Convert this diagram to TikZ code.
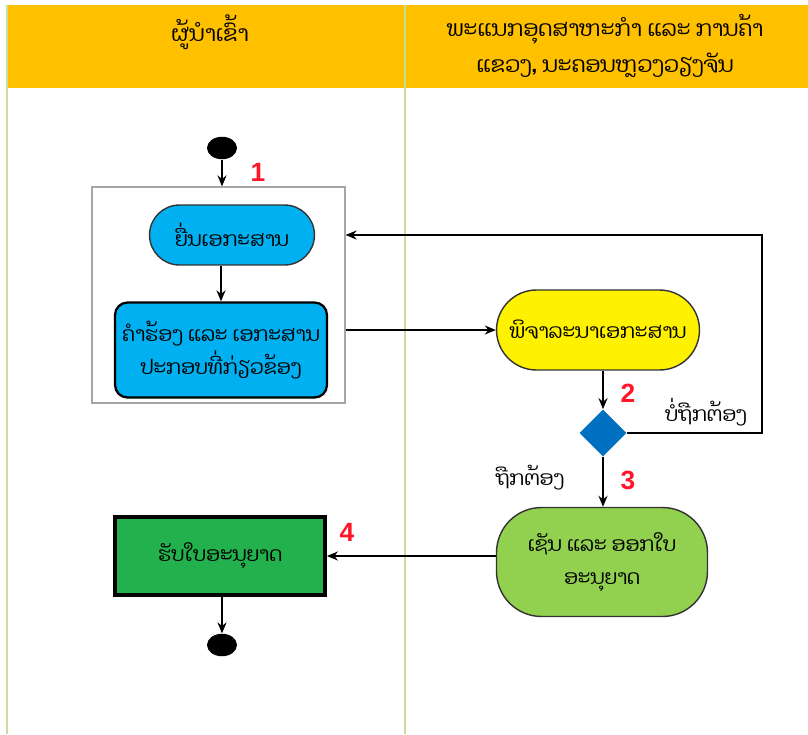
\documentclass[tikz,border=0pt]{standalone}
\usepackage{fontspec}
\setmainfont{Liberation Sans}
\newfontfamily\laofont[Script=Lao]{Dhyana}
\usepackage{tikz}
\usetikzlibrary{positioning, arrows.meta, shapes.geometric, calc}
\definecolor{hdrgold}{RGB}{255,192,0}
\definecolor{laneline}{RGB}{200,222,160}
\definecolor{skyblue}{RGB}{0,176,240}
\definecolor{deepblue}{RGB}{0,112,192}
\definecolor{limegreen}{RGB}{146,208,80}
\definecolor{boxgreen}{RGB}{34,177,76}
\definecolor{numred}{RGB}{255,20,40}

\begin{document}
\begin{tikzpicture}
[x=0.02cm, y=-0.02cm,
 dot/.style={ellipse, fill=black, inner sep=0pt, minimum width=0.6cm, minimum height=0.45cm},
 act/.style={rectangle, align=center, inner sep=2pt, font=\laofont\fontsize{11.5}{19}\selectfont},
 dec/.style={diamond, fill=deepblue, inner sep=0pt, minimum size=0.94cm},
 hdr/.style={align=center, font=\laofont\fontsize{12.5}{20}\selectfont},
 lbl/.style={font=\laofont\fontsize{11.5}{16}\selectfont},
 num/.style={text=numred, font=\bfseries\fontsize{15}{15}\selectfont},
 ->/.style={line width=1.2pt, arrows={-Stealth[length=2.2mm, width=1.8mm]}}]
\useasboundingbox (0,0) rectangle (808,734);
% lanes
\fill[hdrgold] (7,5) rectangle (808,88);
\draw[laneline, line width=1.2pt] (7,5) -- (7,734);
\draw[laneline, line width=1.2pt] (405,5) -- (405,734);
\node[hdr] (lhead) at (210,32) {ຜູ້ນຳເຂົ້າ};
\node[hdr] (rhead) at (605,46) {ພະແນກອຸດສາຫະກຳ ແລະ ການຄ້າ\\ແຂວງ, ນະຄອນຫຼວງວຽງຈັນ};
% nodes
\node[dot] (start) at (222,148) {};
\node[draw=gray!70, line width=0.7pt, minimum width=5.06cm, minimum height=4.32cm] (grp) at (218.5,295) {};
\node[act, draw=black!80, fill=skyblue, line width=0.8pt, rounded corners=0.6cm,
  minimum width=3.3cm, minimum height=1.2cm] (submit) at (232,235) {ຍື່ນເອກະສານ};
\node[act, draw=black, fill=skyblue, line width=1.3pt, rounded corners=0.25cm,
  minimum width=4.24cm, minimum height=1.9cm] (request) at (221,350) {ຄຳຮ້ອງ ແລະ ເອກະສານ\\ປະກອບທີ່ກ່ຽວຂ້ອງ};
\node[act, draw=black!80, fill=yellow, line width=0.8pt, rounded corners=0.8cm,
  minimum width=4.06cm, minimum height=1.6cm] (review) at (598,330) {ພິຈາລະນາເອກະສານ};
\node[dec] (check) at (603,433) {};
\node[act, draw=black!80, fill=limegreen, line width=0.8pt, rounded corners=0.9cm,
  minimum width=4.22cm, minimum height=2.18cm] (sign) at (602,562) {ເຊັນ ແລະ ອອກໃບ\\ອະນຸຍາດ};
\node[act, draw=black, fill=boxgreen, line width=2.2pt,
  minimum width=4.2cm, minimum height=1.56cm] (receive) at (220,556) {ຮັບໃບອະນຸຍາດ};
\node[dot] (stop) at (222,645) {};
\coordinate (back) at (762,433);
% numbers
\node[num] (n1) at (258,172) {1};
\node[num] (n2) at (628,393) {2};
\node[num] (n3) at (628,480) {3};
\node[num] (n4) at (347,532) {4};
\node[lbl] (wrong) at (706,412) {ບໍ່ຖືກຕ້ອງ};
\node[lbl] (right) at (530,478) {ຖືກຕ້ອງ};
% flow
\draw[->] (start) -- (start |- grp.north);
\draw[->] (request |- submit.south) -- (request.north);
\draw[->] (grp.east |- review) -- (review.west);
\draw[->] (check |- review.south) -- (check.north);
\draw[->] (check.south) -- (check |- sign.north);
\draw[->] (check.east) -- (back) |- (grp.east |- submit);
\draw[->] (sign.west |- receive) -- (receive.east);
\draw[->] (receive.south -| stop) -- (stop.north);
\end{tikzpicture}
\end{document}
